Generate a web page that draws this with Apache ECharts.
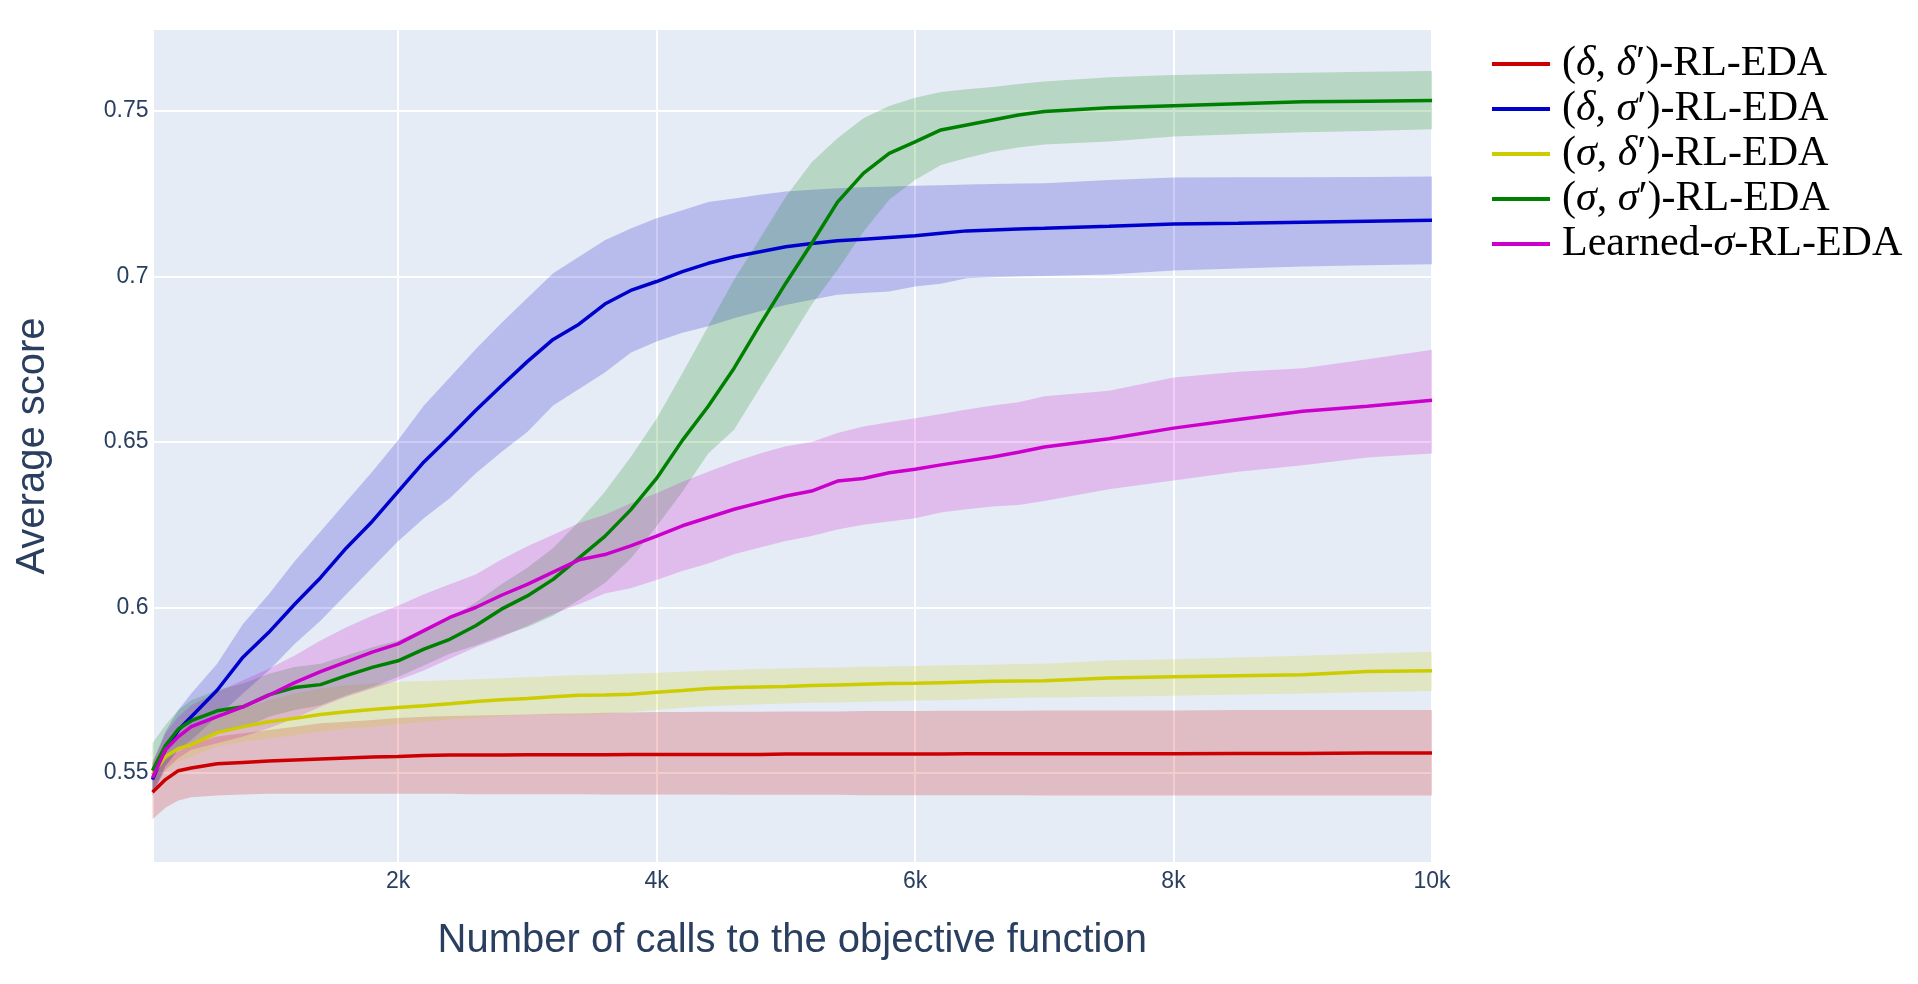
<!DOCTYPE html>
<html>
<head>
<meta charset="utf-8">
<script src="https://cdn.jsdelivr.net/npm/echarts@6/dist/echarts.min.js"></script>
<style>
html,body{margin:0;padding:0;background:#fff;}
#chart{width:1918px;height:984px;}
</style>
</head>
<body>
<div id="chart"></div>
<script>
// x values (number of calls)
const X = [100,200,300,400,600,800,1000,1200,1400,1600,1800,2000,2200,2400,2600,2800,3000,3200,3400,3600,3800,4000,4200,4400,4600,4800,5000,5200,5400,5600,5800,6000,6200,6400,6600,6800,7000,7500,8000,8500,9000,9500,10000];

// (δ,δ')-RL-EDA
const redMean = [0.5442,0.548,0.5507,0.5515,0.5528,0.5532,0.5536,0.5539,0.5542,0.5545,0.5548,0.555,0.5553,0.5554,0.5554,0.5554,0.5555,0.5555,0.5555,0.5555,0.5556,0.5556,0.5556,0.5556,0.5556,0.5556,0.5557,0.5557,0.5557,0.5557,0.5557,0.5557,0.5557,0.5558,0.5558,0.5558,0.5558,0.5558,0.5558,0.5559,0.5559,0.556,0.556];
const redUpper = [0.551,0.554,0.5565,0.5585,0.561,0.562,0.563,0.564,0.565,0.5655,0.566,0.5666,0.567,0.5672,0.5674,0.5675,0.5677,0.5679,0.568,0.5682,0.5683,0.5684,0.5684,0.5685,0.5685,0.5685,0.5686,0.5686,0.5686,0.5687,0.5687,0.5687,0.5688,0.5688,0.5688,0.5688,0.5689,0.5689,0.5689,0.569,0.569,0.569,0.569];
const redLower = [0.536,0.5395,0.5417,0.5427,0.5432,0.5435,0.5437,0.5437,0.5437,0.5437,0.5437,0.5437,0.5437,0.5437,0.5436,0.5436,0.5436,0.5436,0.5436,0.5435,0.5435,0.5435,0.5435,0.5435,0.5434,0.5434,0.5434,0.5434,0.5434,0.5433,0.5433,0.5433,0.5433,0.5433,0.5433,0.5433,0.5432,0.5432,0.5432,0.5432,0.5432,0.5432,0.5432];

// (δ,σ')-RL-EDA
const blueMean = [0.548,0.557,0.563,0.567,0.575,0.585,0.5925,0.601,0.609,0.618,0.626,0.635,0.644,0.6516,0.6595,0.667,0.6743,0.681,0.6856,0.6917,0.6958,0.6985,0.7015,0.704,0.706,0.7075,0.709,0.710,0.7108,0.7113,0.7118,0.7123,0.7131,0.7138,0.7141,0.7144,0.7146,0.7152,0.7159,0.7161,0.7164,0.7167,0.717];
const blueUpper = [0.553,0.5625,0.569,0.574,0.583,0.595,0.604,0.614,0.623,0.632,0.641,0.6505,0.661,0.6695,0.678,0.686,0.6935,0.701,0.706,0.711,0.7145,0.7176,0.720,0.7225,0.7236,0.7247,0.7257,0.7262,0.7267,0.727,0.7272,0.7274,0.7276,0.7278,0.728,0.7281,0.7282,0.7292,0.7299,0.730,0.730,0.7301,0.7302];
const blueLower = [0.543,0.552,0.557,0.560,0.567,0.574,0.581,0.589,0.596,0.604,0.612,0.620,0.627,0.633,0.6405,0.647,0.653,0.661,0.666,0.671,0.677,0.6804,0.683,0.685,0.6874,0.6895,0.6914,0.693,0.6945,0.695,0.6955,0.697,0.6978,0.6995,0.6998,0.700,0.7002,0.7006,0.7018,0.7024,0.703,0.7034,0.7037];

// (σ,δ')-RL-EDA
const yellowMean = [0.5495,0.555,0.5574,0.5585,0.5622,0.564,0.5655,0.5665,0.5677,0.5685,0.5692,0.5698,0.5703,0.5709,0.5716,0.5721,0.5725,0.573,0.5735,0.5736,0.5738,0.5744,0.5749,0.5755,0.5758,0.576,0.5761,0.5764,0.5766,0.5768,0.577,0.5771,0.5773,0.5775,0.5777,0.5778,0.5779,0.5787,0.5791,0.5794,0.5797,0.5807,0.5809];
const yellowUpper = [0.554,0.5595,0.5625,0.5645,0.5665,0.5695,0.572,0.574,0.5755,0.5765,0.577,0.5776,0.5778,0.578,0.5783,0.5786,0.5789,0.5793,0.5796,0.5797,0.58,0.5803,0.5806,0.5809,0.5811,0.5814,0.5816,0.5818,0.5819,0.5821,0.5822,0.5823,0.5825,0.5826,0.5827,0.5829,0.583,0.584,0.5844,0.5849,0.5854,0.586,0.5866];
const yellowLower = [0.545,0.5505,0.5535,0.555,0.558,0.5595,0.5605,0.5615,0.5625,0.5635,0.564,0.5648,0.5655,0.5662,0.5667,0.5672,0.5675,0.5676,0.5677,0.5679,0.5684,0.569,0.5697,0.5702,0.5705,0.5708,0.571,0.5712,0.5713,0.5715,0.5717,0.5719,0.572,0.5722,0.5725,0.5727,0.5728,0.573,0.5733,0.5737,0.574,0.5744,0.5748];

// (σ,σ')-RL-EDA
const greenMean = [0.5507,0.5583,0.5633,0.5658,0.5688,0.570,0.5736,0.5758,0.5767,0.5794,0.5819,0.5839,0.5874,0.5904,0.5945,0.5995,0.6035,0.6085,0.615,0.6215,0.6295,0.639,0.6505,0.6608,0.6723,0.6854,0.698,0.710,0.7225,0.7312,0.7372,0.7407,0.7443,0.7458,0.7473,0.7488,0.7499,0.751,0.7516,0.7522,0.7528,0.753,0.7532];
const greenUpper = [0.559,0.5645,0.569,0.572,0.575,0.577,0.580,0.582,0.583,0.5855,0.588,0.590,0.5935,0.597,0.6015,0.607,0.612,0.618,0.626,0.635,0.6455,0.657,0.6708,0.685,0.699,0.7115,0.7241,0.7345,0.7418,0.7478,0.7515,0.754,0.7558,0.7566,0.7573,0.7582,0.7589,0.7602,0.7609,0.7613,0.7616,0.7619,0.7621];
const greenLower = [0.5445,0.552,0.557,0.559,0.5625,0.5635,0.567,0.569,0.5705,0.5735,0.576,0.579,0.5825,0.586,0.5885,0.5915,0.594,0.5975,0.6023,0.6074,0.6147,0.6245,0.635,0.6465,0.6537,0.6664,0.6789,0.6915,0.702,0.7135,0.7232,0.7292,0.7337,0.7358,0.7377,0.739,0.7399,0.7408,0.7423,0.743,0.7436,0.744,0.7445];

// Learned-σ-RL-EDA
const purpleMean = [0.5485,0.557,0.561,0.564,0.567,0.570,0.5735,0.5773,0.5806,0.5836,0.5865,0.589,0.593,0.597,0.600,0.6037,0.607,0.6107,0.6144,0.616,0.6186,0.6216,0.6247,0.6272,0.6297,0.6317,0.6337,0.6352,0.6382,0.639,0.6407,0.6418,0.6431,0.6443,0.6455,0.6469,0.6485,0.651,0.6542,0.6568,0.6593,0.6608,0.6626];
const purpleUpper = [0.553,0.562,0.567,0.5705,0.5745,0.578,0.5815,0.5855,0.590,0.594,0.5975,0.6005,0.604,0.607,0.610,0.6145,0.6185,0.622,0.6255,0.628,0.6315,0.6345,0.638,0.641,0.644,0.6465,0.6487,0.650,0.6527,0.6547,0.656,0.6572,0.6585,0.6598,0.661,0.662,0.6638,0.6655,0.6695,0.6712,0.6723,0.675,0.6779];
const purpleLower = [0.544,0.551,0.5545,0.557,0.559,0.561,0.5635,0.5665,0.570,0.573,0.5755,0.578,0.581,0.5845,0.588,0.591,0.5945,0.598,0.601,0.6042,0.6058,0.6083,0.611,0.6133,0.6161,0.6181,0.6201,0.6216,0.6236,0.625,0.626,0.627,0.6287,0.6297,0.6305,0.631,0.6322,0.6357,0.6384,0.641,0.643,0.6453,0.6465];

const seriesNames = ['(δ, δ′)-RL-EDA','(δ, σ′)-RL-EDA','(σ, δ′)-RL-EDA','(σ, σ′)-RL-EDA','Learned-σ-RL-EDA'];
const legendRich = {
  '(δ, δ′)-RL-EDA': '{n|(}{i|δ}{n|, }{i|δ}{n|′)-RL-EDA}',
  '(δ, σ′)-RL-EDA': '{n|(}{i|δ}{n|, }{i|σ}{n|′)-RL-EDA}',
  '(σ, δ′)-RL-EDA': '{n|(}{i|σ}{n|, }{i|δ}{n|′)-RL-EDA}',
  '(σ, σ′)-RL-EDA': '{n|(}{i|σ}{n|, }{i|σ}{n|′)-RL-EDA}',
  'Learned-σ-RL-EDA': '{n|Learned-}{i|σ}{n|-RL-EDA}'
};
const lineColors = ['#cc0000','#0000cc','#cccc00','#008000','#cc00cc'];
const bandColors = ['rgba(204,0,0,0.2)','rgba(0,0,204,0.2)','rgba(204,204,0,0.2)','rgba(0,128,0,0.2)','rgba(204,0,204,0.2)'];

const means = [redMean, blueMean, yellowMean, greenMean, purpleMean];
const uppers = [redUpper, blueUpper, yellowUpper, greenUpper, purpleUpper];
const lowers = [redLower, blueLower, yellowLower, greenLower, purpleLower];

function bandSeries(lo, hi, color) {
  return {
    type: 'custom',
    silent: true,
    data: X.map((x, i) => [x, lo[i], hi[i]]),
    encode: { x: 0, y: [1, 2] },
    renderItem: function (params, api) {
      if (params.dataIndex !== 0) return { type: 'group', children: [] };
      const pts = [];
      for (let i = 0; i < X.length; i++) pts.push(api.coord([X[i], hi[i]]));
      for (let i = X.length - 1; i >= 0; i--) pts.push(api.coord([X[i], lo[i]]));
      return { type: 'polygon', shape: { points: pts }, style: { fill: color } };
    }
  };
}

const series = [];
for (let k = 0; k < 5; k++) {
  series.push(bandSeries(lowers[k], uppers[k], bandColors[k]));
  series.push({
    type: 'line',
    name: seriesNames[k],
    data: X.map((x, i) => [x, means[k][i]]),
    showSymbol: false,
    symbol: 'none',
    lineStyle: { width: 3.5, color: lineColors[k] },
    itemStyle: { color: lineColors[k] },
    emphasis: { disabled: true }
  });
}

const tickFont = { fontFamily: 'Liberation Sans, Arial, sans-serif', fontSize: 23, color: '#2a3f5f' };
const serif = 'Liberation Serif, Times New Roman, serif';

const chart = echarts.init(document.getElementById('chart'), null, { renderer: 'canvas' });
chart.setOption({
  animation: false,
  backgroundColor: '#ffffff',
  grid: { left: 152.5, right: 486, top: 29, bottom: 121, show: true, backgroundColor: '#E5ECF6', borderWidth: 0, containLabel: false },
  xAxis: {
    type: 'value', min: 100, max: 10000,
    name: 'Number of calls to the objective function',
    nameLocation: 'middle', nameGap: 57.5,
    nameTextStyle: { fontFamily: 'Liberation Sans, Arial, sans-serif', fontSize: 40, color: '#2a3f5f' },
    axisLine: { show: false }, axisTick: { show: false },
    splitLine: { show: true, lineStyle: { color: '#ffffff', width: 2 } },
    axisLabel: Object.assign({ margin: 7, formatter: v => (v % 2000 === 0 ? (v / 1000) + 'k' : '') }, tickFont)
  },
  yAxis: {
    type: 'value', min: 0.5228, max: 0.7748,
    name: 'Average score',
    nameLocation: 'middle', nameGap: 100,
    nameTextStyle: { fontFamily: 'Liberation Sans, Arial, sans-serif', fontSize: 40, color: '#2a3f5f' },
    axisLine: { show: false }, axisTick: { show: false },
    splitLine: { show: true, lineStyle: { color: '#ffffff', width: 2 } },
    axisLabel: Object.assign({ margin: 4, formatter: v => {
      const r = Math.round(v * 20) / 20;
      if (Math.abs(v - r) > 1e-6) return '';
      return String(parseFloat(r.toFixed(2)));
    } }, tickFont)
  },
  legend: {
    orient: 'vertical', left: 1487, top: 36.5,
    itemWidth: 58, itemHeight: 4, itemGap: 0,
    icon: 'rect',
    selectedMode: false,
    data: seriesNames,
    formatter: name => legendRich[name],
    textStyle: {
      fontFamily: serif, fontSize: 42, color: '#000', lineHeight: 45,
      padding: [0, 0, 0, 7],
      rich: {
        n: { fontFamily: serif, fontSize: 42, color: '#000', lineHeight: 45 },
        i: { fontFamily: serif, fontSize: 42, fontStyle: 'italic', color: '#000', lineHeight: 45 }
      }
    }
  },
  series: series
});
</script>
</body>
</html>
